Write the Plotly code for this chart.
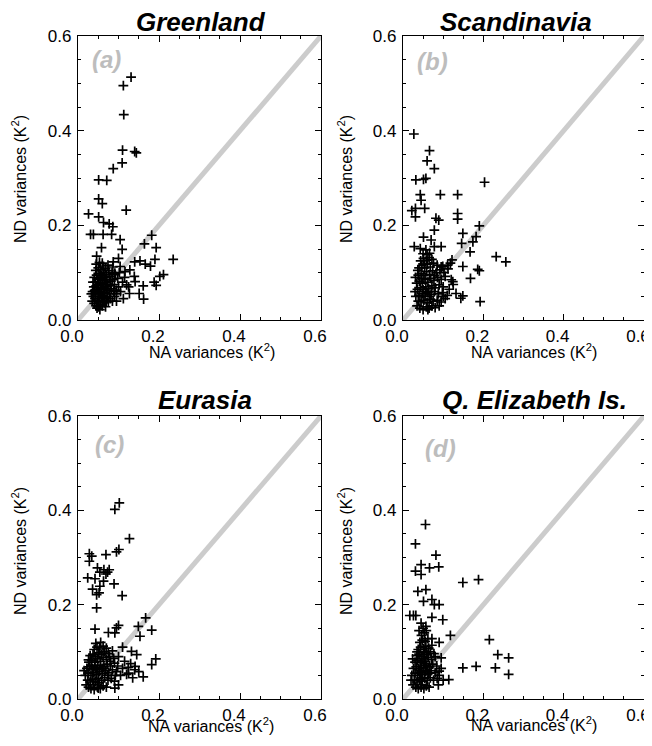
import plotly.graph_objects as go

regions = ["Greenland", "Scandinavia", "Eurasia", "Q. Elizabeth Is."]
panel_labels = ["(a)", "(b)", "(c)", "(d)"]
tick_vals = [0.0, 0.2, 0.4, 0.6]
tick_text = ["0.0", "0.2", "0.4", "0.6"]

greenland = [
    (0.131, 0.513), (0.112, 0.495), (0.113, 0.434), (0.110, 0.359), (0.140, 0.356), (0.144, 0.353),
    (0.109, 0.332), (0.087, 0.320), (0.051, 0.296), (0.071, 0.295), (0.051, 0.256), (0.060, 0.246),
    (0.119, 0.232), (0.026, 0.224), (0.051, 0.218), (0.063, 0.206), (0.077, 0.203), (0.038, 0.181),
    (0.031, 0.181), (0.062, 0.181), (0.086, 0.197), (0.083, 0.181), (0.104, 0.170), (0.058, 0.153),
    (0.109, 0.149), (0.182, 0.179), (0.164, 0.161), (0.193, 0.153), (0.235, 0.128), (0.211, 0.096),
    (0.190, 0.128), (0.179, 0.114), (0.166, 0.118), (0.140, 0.123), (0.153, 0.125), (0.202, 0.092),
    (0.193, 0.073), (0.188, 0.080), (0.161, 0.072), (0.162, 0.044), (0.151, 0.056), (0.139, 0.092),
    (0.127, 0.056), (0.120, 0.074), (0.116, 0.102), (0.100, 0.130), (0.087, 0.123), (0.046, 0.135),
    (0.104, 0.113), (0.091, 0.099), (0.128, 0.106), (0.141, 0.081), (0.095, 0.063),
    (0.040, 0.035), (0.045, 0.030), (0.050, 0.028), (0.055, 0.032), (0.060, 0.030), (0.065, 0.036),
    (0.048, 0.040), (0.052, 0.042), (0.058, 0.045), (0.062, 0.040), (0.070, 0.042), (0.075, 0.038),
    (0.080, 0.045), (0.085, 0.040), (0.042, 0.045), (0.038, 0.050), (0.044, 0.055), (0.050, 0.050),
    (0.054, 0.055), (0.060, 0.052), (0.066, 0.058), (0.072, 0.050), (0.078, 0.055), (0.090, 0.050),
    (0.095, 0.055), (0.036, 0.060), (0.041, 0.062), (0.047, 0.065), (0.053, 0.060), (0.057, 0.068),
    (0.063, 0.064), (0.068, 0.070), (0.074, 0.062), (0.082, 0.066), (0.088, 0.060), (0.039, 0.070),
    (0.045, 0.072), (0.051, 0.075), (0.056, 0.078), (0.061, 0.074), (0.067, 0.080), (0.073, 0.076),
    (0.080, 0.072), (0.043, 0.080), (0.049, 0.085), (0.055, 0.088), (0.060, 0.084), (0.065, 0.090),
    (0.071, 0.086), (0.078, 0.092), (0.085, 0.085), (0.040, 0.090), (0.046, 0.095), (0.052, 0.098),
    (0.058, 0.094), (0.064, 0.100), (0.070, 0.096), (0.076, 0.104), (0.084, 0.100), (0.092, 0.096),
    (0.044, 0.105), (0.050, 0.110), (0.056, 0.106), (0.062, 0.112), (0.068, 0.108), (0.074, 0.116),
    (0.086, 0.112), (0.045, 0.118), (0.053, 0.122), (0.060, 0.120), (0.098, 0.088), (0.100, 0.070),
    (0.105, 0.060), (0.110, 0.080), (0.112, 0.045), (0.095, 0.040), (0.035, 0.040), (0.033, 0.055),
    (0.037, 0.080), (0.054, 0.022), (0.047, 0.025), (0.068, 0.028), (0.090, 0.075), (0.102, 0.100),
    (0.115, 0.090), (0.125, 0.070), (0.058, 0.058), (0.049, 0.068), (0.063, 0.048), (0.071, 0.066),
    (0.081, 0.082),
]

scandinavia = [
    (0.027, 0.393), (0.066, 0.358), (0.060, 0.336), (0.078, 0.320), (0.032, 0.296), (0.051, 0.297),
    (0.057, 0.299), (0.203, 0.291), (0.093, 0.265), (0.136, 0.265), (0.043, 0.265), (0.045, 0.253),
    (0.022, 0.231), (0.031, 0.236), (0.054, 0.236), (0.031, 0.218), (0.136, 0.225), (0.136, 0.213),
    (0.082, 0.215), (0.089, 0.211), (0.078, 0.190), (0.190, 0.199), (0.182, 0.176), (0.174, 0.165),
    (0.149, 0.183), (0.146, 0.162), (0.167, 0.144), (0.051, 0.175), (0.070, 0.169), (0.078, 0.155),
    (0.095, 0.155), (0.028, 0.155), (0.232, 0.134), (0.256, 0.123), (0.186, 0.107), (0.190, 0.104),
    (0.168, 0.088), (0.192, 0.039), (0.144, 0.046), (0.149, 0.051), (0.132, 0.056), (0.149, 0.113),
    (0.124, 0.081), (0.111, 0.116), (0.122, 0.127), (0.099, 0.113), (0.057, 0.148), (0.043, 0.151),
    (0.066, 0.141),
    (0.035, 0.030), (0.042, 0.025), (0.050, 0.022), (0.058, 0.028), (0.065, 0.025), (0.072, 0.030),
    (0.080, 0.026), (0.038, 0.040), (0.045, 0.038), (0.052, 0.042), (0.060, 0.036), (0.068, 0.044),
    (0.075, 0.040), (0.085, 0.042), (0.095, 0.038), (0.105, 0.045), (0.032, 0.050), (0.040, 0.052),
    (0.048, 0.055), (0.055, 0.050), (0.062, 0.058), (0.070, 0.054), (0.078, 0.060), (0.088, 0.055),
    (0.098, 0.058), (0.110, 0.052), (0.036, 0.065), (0.043, 0.068), (0.050, 0.064), (0.057, 0.070),
    (0.064, 0.066), (0.072, 0.072), (0.080, 0.068), (0.090, 0.074), (0.100, 0.070), (0.034, 0.078),
    (0.041, 0.082), (0.048, 0.078), (0.055, 0.085), (0.062, 0.080), (0.069, 0.088), (0.077, 0.084),
    (0.086, 0.090), (0.095, 0.086), (0.105, 0.092), (0.038, 0.095), (0.045, 0.098), (0.052, 0.094),
    (0.059, 0.102), (0.066, 0.096), (0.074, 0.104), (0.083, 0.100), (0.092, 0.106), (0.102, 0.100),
    (0.112, 0.108), (0.040, 0.110), (0.047, 0.115), (0.054, 0.110), (0.061, 0.118), (0.068, 0.112),
    (0.076, 0.120), (0.085, 0.116), (0.095, 0.112), (0.044, 0.125), (0.051, 0.130), (0.058, 0.126),
    (0.065, 0.132), (0.072, 0.128), (0.050, 0.140), (0.060, 0.138), (0.118, 0.120), (0.120, 0.085),
    (0.115, 0.065), (0.125, 0.075), (0.030, 0.060), (0.031, 0.090), (0.057, 0.060), (0.047, 0.088),
    (0.066, 0.050), (0.079, 0.094), (0.090, 0.030), (0.100, 0.050), (0.053, 0.118), (0.037, 0.105),
    (0.062, 0.022),
]

eurasia = [
    (0.102, 0.416), (0.091, 0.402), (0.127, 0.340), (0.101, 0.317), (0.095, 0.312), (0.069, 0.306),
    (0.028, 0.308), (0.034, 0.303), (0.028, 0.292), (0.048, 0.278), (0.064, 0.274), (0.054, 0.269),
    (0.073, 0.269), (0.077, 0.274), (0.069, 0.265), (0.024, 0.257), (0.042, 0.255), (0.063, 0.250),
    (0.089, 0.244), (0.036, 0.233), (0.054, 0.239), (0.052, 0.225), (0.046, 0.221), (0.109, 0.219),
    (0.046, 0.193), (0.042, 0.148), (0.095, 0.151), (0.100, 0.156), (0.091, 0.140), (0.075, 0.141),
    (0.167, 0.172), (0.149, 0.154), (0.182, 0.146), (0.153, 0.133), (0.192, 0.085), (0.182, 0.073),
    (0.161, 0.047), (0.141, 0.069), (0.132, 0.101), (0.145, 0.094), (0.110, 0.110), (0.124, 0.067),
    (0.120, 0.052), (0.091, 0.023), (0.050, 0.023), (0.026, 0.083),
    (0.020, 0.030), (0.026, 0.025), (0.032, 0.022), (0.040, 0.020), (0.048, 0.025), (0.055, 0.022),
    (0.062, 0.028), (0.070, 0.025), (0.024, 0.040), (0.030, 0.036), (0.036, 0.042), (0.043, 0.038),
    (0.050, 0.044), (0.058, 0.040), (0.066, 0.045), (0.074, 0.040), (0.082, 0.044), (0.090, 0.038),
    (0.018, 0.050), (0.025, 0.055), (0.032, 0.050), (0.039, 0.056), (0.046, 0.052), (0.053, 0.058),
    (0.060, 0.054), (0.068, 0.060), (0.076, 0.056), (0.085, 0.062), (0.095, 0.058), (0.022, 0.065),
    (0.029, 0.068), (0.035, 0.064), (0.042, 0.070), (0.049, 0.066), (0.056, 0.072), (0.064, 0.068),
    (0.072, 0.074), (0.080, 0.070), (0.090, 0.076), (0.027, 0.078), (0.034, 0.082), (0.041, 0.078),
    (0.048, 0.085), (0.055, 0.080), (0.062, 0.088), (0.070, 0.084), (0.078, 0.090), (0.088, 0.086),
    (0.030, 0.092), (0.037, 0.095), (0.044, 0.090), (0.051, 0.098), (0.058, 0.094), (0.066, 0.100),
    (0.075, 0.096), (0.085, 0.102), (0.040, 0.105), (0.047, 0.110), (0.054, 0.106), (0.062, 0.112),
    (0.070, 0.108), (0.044, 0.118), (0.056, 0.120), (0.098, 0.070), (0.100, 0.090), (0.105, 0.050),
    (0.110, 0.065), (0.115, 0.080), (0.100, 0.030), (0.015, 0.060), (0.038, 0.030), (0.052, 0.034),
    (0.045, 0.062), (0.060, 0.064), (0.033, 0.072), (0.073, 0.050), (0.080, 0.080), (0.092, 0.050),
    (0.125, 0.055), (0.130, 0.075), (0.140, 0.062), (0.150, 0.058), (0.135, 0.045),
]

qe_islands = [
    (0.056, 0.370), (0.031, 0.329), (0.082, 0.305), (0.089, 0.280), (0.066, 0.278), (0.045, 0.285),
    (0.031, 0.271), (0.045, 0.264), (0.149, 0.247), (0.188, 0.253), (0.037, 0.228), (0.057, 0.232),
    (0.051, 0.207), (0.072, 0.211), (0.078, 0.200), (0.090, 0.200), (0.017, 0.177), (0.026, 0.177),
    (0.032, 0.177), (0.072, 0.173), (0.099, 0.168), (0.045, 0.161), (0.057, 0.154), (0.118, 0.135),
    (0.215, 0.126), (0.072, 0.128), (0.090, 0.120), (0.236, 0.094), (0.263, 0.087), (0.095, 0.087),
    (0.149, 0.066), (0.182, 0.069), (0.230, 0.066), (0.263, 0.052), (0.114, 0.041), (0.090, 0.059),
    (0.025, 0.030), (0.032, 0.025), (0.038, 0.022), (0.045, 0.025), (0.052, 0.022), (0.058, 0.028),
    (0.065, 0.025), (0.028, 0.040), (0.035, 0.036), (0.041, 0.042), (0.048, 0.038), (0.054, 0.044),
    (0.061, 0.040), (0.068, 0.045), (0.076, 0.040), (0.085, 0.044), (0.022, 0.050), (0.030, 0.055),
    (0.036, 0.050), (0.043, 0.056), (0.049, 0.052), (0.056, 0.058), (0.063, 0.054), (0.070, 0.060),
    (0.080, 0.056), (0.026, 0.065), (0.033, 0.068), (0.039, 0.064), (0.046, 0.070), (0.052, 0.066),
    (0.059, 0.072), (0.066, 0.068), (0.074, 0.074), (0.084, 0.070), (0.030, 0.078), (0.037, 0.082),
    (0.043, 0.078), (0.050, 0.085), (0.056, 0.080), (0.063, 0.088), (0.071, 0.084), (0.080, 0.090),
    (0.034, 0.092), (0.040, 0.095), (0.047, 0.090), (0.053, 0.098), (0.060, 0.094), (0.068, 0.100),
    (0.077, 0.096), (0.038, 0.105), (0.044, 0.110), (0.051, 0.106), (0.057, 0.112), (0.064, 0.108),
    (0.072, 0.114), (0.042, 0.120), (0.048, 0.125), (0.055, 0.122), (0.062, 0.128), (0.046, 0.135),
    (0.053, 0.140), (0.050, 0.150), (0.058, 0.145), (0.040, 0.145), (0.020, 0.040), (0.024, 0.085),
    (0.090, 0.050), (0.095, 0.065), (0.100, 0.040), (0.088, 0.030), (0.047, 0.045), (0.053, 0.075),
    (0.041, 0.060), (0.060, 0.060), (0.035, 0.100), (0.067, 0.055), (0.045, 0.030), (0.058, 0.100),
]

datasets = [greenland, scandinavia, eurasia, qe_islands]

WIN_W, WIN_H = 652, 746
OFF = 8  # page body margin: the figure starts 8px in from the window corner
W, H = WIN_W - OFF, WIN_H - OFF
# plot-area boxes in window pixels: left, right, top, bottom
boxes = [(78, 321, 36, 320), (403, 644, 36, 320), (78, 321, 416, 699), (403, 644, 416, 699)]
title_pos = [(201, 22), (516, 22), (205, 400), (534, 400)]
label_pos = [(106, 60), (432, 61), (109, 444), (440, 448)]
ytitle_pos = [(19, 179), (345, 179), (19, 551), (345, 551)]
xtitle_pos = [(212, 351), (534, 351), (211, 725), (534, 724)]

FONT = "Liberation Sans, Arial, Helvetica, sans-serif"

def px(x):
    return (x - OFF) / W

def py(y):
    return 1 - (y - OFF) / H

fig = go.Figure()
annotations = []
layout = {}

for i, pts in enumerate(datasets):
    n = "" if i == 0 else str(i + 1)
    xa, ya = "x" + n, "y" + n
    l, r, t, b = boxes[i]
    fig.add_trace(go.Scatter(x=[0, 0.6], y=[0, 0.6], mode="lines",
                             line=dict(color="#cccccc", width=5),
                             xaxis=xa, yaxis=ya, showlegend=False, hoverinfo="skip"))
    fig.add_trace(go.Scatter(x=[p[0] for p in pts], y=[p[1] for p in pts], mode="markers",
                             marker=dict(symbol="cross-thin", size=7,
                                         line=dict(color="black", width=1.7)),
                             xaxis=xa, yaxis=ya, showlegend=False, cliponaxis=False))
    common = dict(range=[0, 0.6], tickvals=tick_vals, ticktext=tick_text,
                  ticks="inside", ticklen=6, tickwidth=1, tickcolor="black",
                  showline=True, linecolor="black", linewidth=1.2, mirror="ticks",
                  showgrid=False, zeroline=False, automargin=False,
                  ticklabeloverflow="allow",
                  tickfont=dict(family=FONT, size=17, color="black"),
                  minor=dict(dtick=0.05, tick0=0, ticks="inside", ticklen=3,
                             tickcolor="black", tickwidth=1, showgrid=False))
    layout["xaxis" + n] = dict(domain=[px(l), px(r)], anchor=ya, ticklabelstandoff=0,
                               ticklabelshift=-6, **common)
    layout["yaxis" + n] = dict(domain=[py(b), py(t)], anchor=xa, ticklabelstandoff=2, **common)

    annotations.append(dict(text="<b><i>" + regions[i] + "</i></b>", x=px(title_pos[i][0]),
                            y=py(title_pos[i][1]), xref="paper", yref="paper",
                            xanchor="center", yanchor="middle", showarrow=False,
                            font=dict(family=FONT, size=26, color="black")))
    annotations.append(dict(text="<b><i>" + panel_labels[i] + "</i></b>", x=px(label_pos[i][0]),
                            y=py(label_pos[i][1]), xref="paper", yref="paper",
                            xanchor="center", yanchor="middle", showarrow=False,
                            font=dict(family=FONT, size=24, color="#bdbdbd")))
    annotations.append(dict(text="ND variances (K<sup>2</sup>)", x=px(ytitle_pos[i][0]),
                            y=py(ytitle_pos[i][1]), xref="paper", yref="paper", textangle=-90,
                            xanchor="center", yanchor="middle", showarrow=False,
                            font=dict(family=FONT, size=16, color="black")))
    annotations.append(dict(text="NA variances (K<sup>2</sup>)", x=px(xtitle_pos[i][0]),
                            y=py(xtitle_pos[i][1]), xref="paper", yref="paper",
                            xanchor="center", yanchor="middle", showarrow=False,
                            font=dict(family=FONT, size=16, color="black")))

fig.update_layout(width=W, height=H, margin=dict(l=0, r=0, t=0, b=0, autoexpand=False),
                  paper_bgcolor="white", plot_bgcolor="white",
                  annotations=annotations, showlegend=False, **layout)

fig.write_html("out.html")
